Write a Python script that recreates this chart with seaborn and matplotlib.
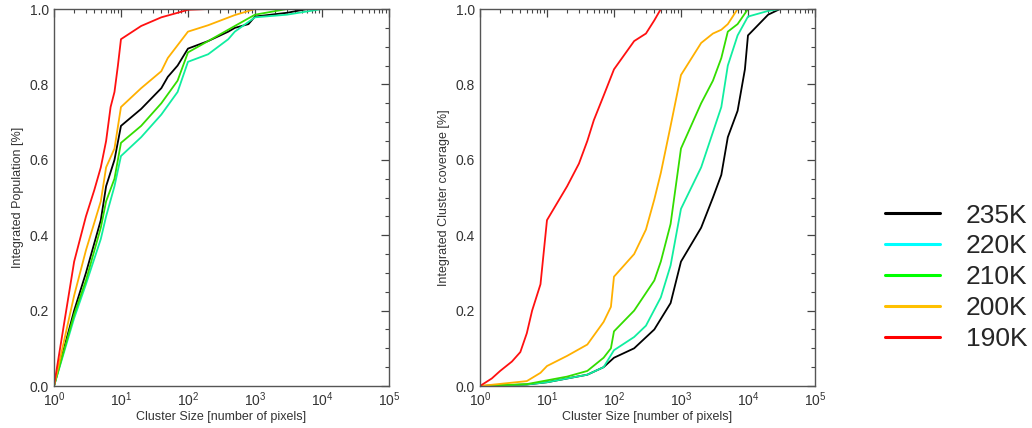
import numpy as np
import pandas as pd
import matplotlib
matplotlib.use("Agg")
import matplotlib.pyplot as plt
import seaborn as sns
from matplotlib.lines import Line2D
from matplotlib.ticker import LogLocator, MultipleLocator, FormatStrFormatter, NullFormatter

# thresholds and colours
labels = ["235K", "220K", "210K", "200K", "190K"]
line_colors = ["#000000", "#10eea0", "#33dd00", "#ffb000", "#ff1010"]
legend_colors = ["#000000", "#00ffff", "#00ff00", "#ffc000", "#ff0000"]

# left panel: integrated population
pop_x = {
    "235K": [1, 2, 3, 5, 6, 8, 10, 20, 40, 50, 70, 100, 200, 400, 500, 800, 1000, 3000, 6000, 1e5],
    "220K": [1, 2, 3, 5, 6, 8, 10, 20, 40, 70, 100, 200, 400, 500, 1000, 3000, 10000, 1e5],
    "210K": [1, 2, 3, 5, 6, 8, 10, 20, 40, 70, 100, 200, 500, 1000, 3000, 1e5],
    "200K": [1, 2, 3, 5, 6, 8, 10, 20, 40, 50, 100, 200, 500, 1000, 1e5],
    "190K": [1, 2, 3, 4, 5, 6, 7, 8, 9, 10, 20, 40, 70, 100, 200, 1e5],
}
pop_y = {
    "235K": [0, 0.20, 0.30, 0.44, 0.53, 0.60, 0.69, 0.735, 0.79, 0.82, 0.85, 0.895, 0.915, 0.94, 0.95, 0.96, 0.98, 0.99, 1.0, 1.0],
    "220K": [0, 0.18, 0.27, 0.39, 0.45, 0.53, 0.61, 0.66, 0.72, 0.78, 0.86, 0.88, 0.92, 0.94, 0.978, 0.985, 1.0, 1.0],
    "210K": [0, 0.19, 0.28, 0.42, 0.49, 0.55, 0.645, 0.69, 0.75, 0.81, 0.885, 0.915, 0.955, 0.985, 1.0, 1.0],
    "200K": [0, 0.24, 0.36, 0.49, 0.58, 0.63, 0.74, 0.79, 0.835, 0.87, 0.94, 0.957, 0.984, 1.0, 1.0],
    "190K": [0, 0.33, 0.45, 0.52, 0.58, 0.65, 0.74, 0.78, 0.85, 0.92, 0.955, 0.978, 0.99, 0.998, 1.0, 1.0],
}

# right panel: integrated cluster coverage
cov_x = {
    "235K": [1, 5, 10, 40, 70, 100, 200, 400, 700, 1000, 2000, 3000, 4000, 5000, 7000, 9000, 10000, 20000, 30000, 1e5],
    "220K": [1, 5, 10, 40, 70, 100, 200, 300, 500, 700, 1000, 2000, 4000, 5000, 7000, 10000, 20000, 30000, 1e5],
    "210K": [1, 5, 10, 20, 40, 70, 90, 100, 200, 400, 500, 700, 1000, 2000, 3000, 4000, 5000, 7000, 10000, 1e5],
    "200K": [1, 5, 8, 10, 20, 40, 70, 90, 100, 200, 300, 400, 500, 700, 1000, 2000, 3000, 4000, 5000, 7000, 1e5],
    "190K": [1, 1.5, 2, 3, 4, 5, 6, 8, 10, 20, 30, 40, 50, 70, 100, 200, 300, 400, 500, 1e5],
}
cov_y = {
    "235K": [0, 0.004, 0.01, 0.03, 0.05, 0.075, 0.10, 0.15, 0.22, 0.33, 0.42, 0.50, 0.56, 0.66, 0.73, 0.84, 0.93, 0.985, 1.0, 1.0],
    "220K": [0, 0.004, 0.01, 0.03, 0.05, 0.095, 0.13, 0.16, 0.235, 0.32, 0.47, 0.58, 0.74, 0.85, 0.93, 0.98, 0.995, 1.0, 1.0],
    "210K": [0, 0.005, 0.015, 0.025, 0.04, 0.075, 0.10, 0.145, 0.20, 0.28, 0.33, 0.43, 0.63, 0.75, 0.81, 0.87, 0.94, 0.96, 1.0, 1.0],
    "200K": [0, 0.013, 0.035, 0.053, 0.08, 0.11, 0.17, 0.21, 0.29, 0.35, 0.415, 0.495, 0.565, 0.69, 0.825, 0.91, 0.935, 0.945, 0.96, 1.0, 1.0],
    "190K": [0, 0.02, 0.04, 0.065, 0.09, 0.14, 0.20, 0.27, 0.44, 0.53, 0.59, 0.65, 0.705, 0.77, 0.84, 0.915, 0.935, 0.97, 1.0, 1.0],
}


def to_frame(xs, ys):
    rows = []
    for lab in labels:
        for x, y in zip(xs[lab], ys[lab]):
            rows.append((lab, x, y))
    return pd.DataFrame(rows, columns=["threshold", "size", "frac"])


sns.set_style("white")
plt.rcParams["font.family"] = ["Liberation Sans", "DejaVu Sans"]

fig = plt.figure(figsize=(10.32, 4.28), dpi=100)
ax1 = fig.add_axes([0.0523, 0.0981, 0.3246, 0.8808])
ax2 = fig.add_axes([0.4651, 0.0981, 0.3246, 0.8808])

panels = [
    (ax1, to_frame(pop_x, pop_y), "Integrated Population [%]"),
    (ax2, to_frame(cov_x, cov_y), "Integrated Cluster coverage [%]"),
]

for ax, df, ylab in panels:
    sns.lineplot(data=df, x="size", y="frac", hue="threshold", hue_order=labels,
                 palette=dict(zip(labels, line_colors)), linewidth=1.3,
                 estimator=None, sort=False, legend=False, ax=ax)
    ax.set_xscale("log")
    ax.set_xlim(1, 1e5)
    ax.set_ylim(0, 1)
    ax.xaxis.set_major_locator(LogLocator(base=10, numticks=10))
    ax.xaxis.set_minor_locator(LogLocator(base=10, subs=np.arange(2, 10), numticks=20))
    ax.xaxis.set_minor_formatter(NullFormatter())
    ax.yaxis.set_major_locator(MultipleLocator(0.2))
    ax.yaxis.set_minor_locator(MultipleLocator(0.05))
    ax.yaxis.set_major_formatter(FormatStrFormatter("%.1f"))
    ax.tick_params(which="both", direction="in", top=True, right=True,
                   colors="#444444", labelcolor="#333333", labelsize=10)
    ax.tick_params(which="major", length=6, width=0.9)
    ax.tick_params(which="minor", length=3, width=0.8)
    for s in ax.spines.values():
        s.set_color("#555555")
        s.set_linewidth(1.0)
    ax.set_xlabel("Cluster Size [number of pixels]", fontsize=9, color="#333333", labelpad=1)
    ax.set_ylabel(ylab, fontsize=9, color="#333333", labelpad=4)

handles = [Line2D([0], [0], color=c, lw=2.2) for c in legend_colors]
fig.legend(handles, labels, loc="center left", bbox_to_anchor=(0.8576, 0.352),
           frameon=False, fontsize=19, handlelength=2.1, handletextpad=0.95,
           labelspacing=0.26, borderpad=0, borderaxespad=0)

fig.savefig("out.png", dpi=100)
